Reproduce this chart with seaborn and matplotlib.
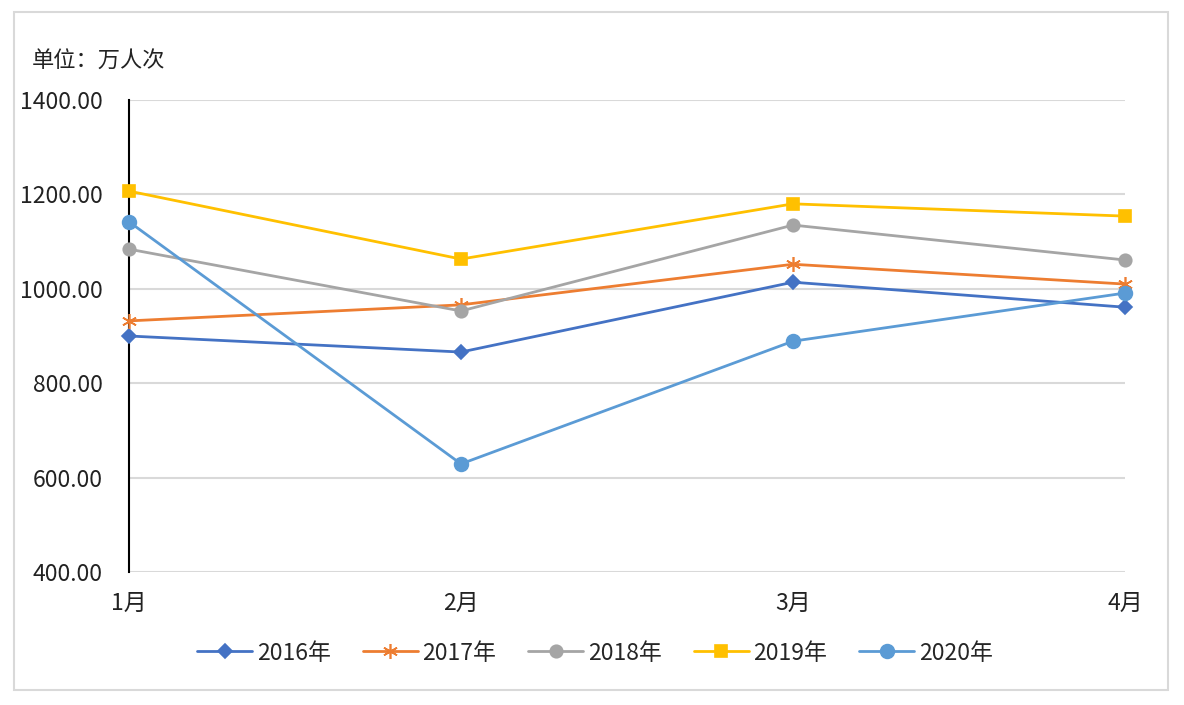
import pandas as pd
import matplotlib.pyplot as plt
import seaborn as sns
from matplotlib.patches import Rectangle

months = ['1月', '2月', '3月', '4月']
years = ['2016年', '2017年', '2018年', '2019年', '2020年']
v2016 = [900, 866, 1014, 961]
v2017 = [932, 966, 1052, 1010]
v2018 = [1084, 953, 1135, 1061]
v2019 = [1207, 1063, 1180, 1154]
v2020 = [1142, 629, 889, 991]

colors = ['#4472C4', '#ED7D31', '#A5A5A5', '#FFC000', '#5B9BD5']
markers = ['D', (6, 2, 0), 'o', 's', 'o']
msizes = [8, 12, 10, 10, 11]

df = pd.DataFrame({'月': months * 5,
                   '年': [y for y in years for _ in months],
                   '值': v2016 + v2017 + v2018 + v2019 + v2020})
df['x'] = list(range(len(months))) * 5

sns.set_style('white')
plt.rcParams['font.family'] = ['Noto Sans CJK SC', 'DejaVu Sans']

fig = plt.figure(figsize=(11.84, 7.05), dpi=100)
ax = fig.add_axes([129 / 1184, 1 - 572 / 705, (1125 - 129) / 1184, (572 - 100) / 705])

for i, y in enumerate(years):
    d = df[df['年'] == y]
    sns.lineplot(data=d, x='x', y='值', ax=ax, color=colors[i], marker=markers[i],
                 markersize=msizes[i], markeredgecolor=colors[i], markeredgewidth=1.2,
                 linewidth=2, label=y, clip_on=False, zorder=3 + i)

ax.set_xlim(0, 3)
ax.set_ylim(400, 1400)
ax.set_yticks(range(400, 1401, 200))
ax.set_yticklabels([f'{v:.2f}' for v in range(400, 1401, 200)], fontsize=16.5, color='#222222')
ax.set_xticks(range(4))
ax.set_xticklabels(months, fontsize=16.5, color='#222222')
ax.tick_params(axis='y', pad=19, length=0)
ax.tick_params(axis='x', pad=14, length=0)
ax.set_xlabel('')
ax.set_ylabel('')
ax.grid(axis='y', color='#D9D9D9', linewidth=1.5)
ax.set_axisbelow(True)
for s in ['top', 'right', 'bottom']:
    ax.spines[s].set_visible(False)
ax.spines['left'].set_color('black')
ax.spines['left'].set_linewidth(1.5)

h, l = ax.get_legend_handles_labels()
ax.get_legend().remove()
for hh in h:
    hh.set_markersize(hh.get_markersize() * 0.9)
fig.legend(h, l, loc='center', bbox_to_anchor=(595 / 1184, 1 - 653 / 705), ncol=5, frameon=False,
           fontsize=16.5, handlelength=2.4, columnspacing=1.4, handletextpad=0.2)

fig.text(32 / 1184, 1 - 61 / 705, '单位：万人次', fontsize=16, va='center', ha='left', color='#222222')
fig.patches.append(Rectangle((14 / 1184, 1 - 690 / 705), (1168 - 14) / 1184, (690 - 12) / 705,
                             transform=fig.transFigure, fill=False, edgecolor='#D9D9D9', linewidth=1.5))

fig.savefig('out.png', dpi=100)
